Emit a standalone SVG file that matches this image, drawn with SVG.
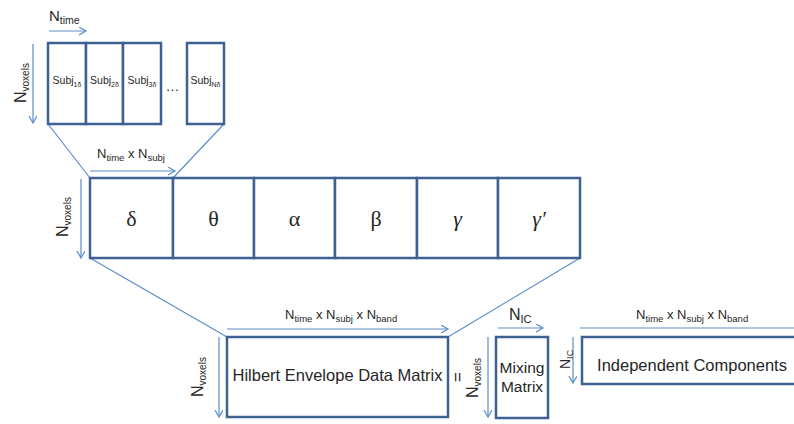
<svg xmlns="http://www.w3.org/2000/svg" width="794" height="424" viewBox="0 0 794 424">
  <defs>
    <marker id="head" markerUnits="userSpaceOnUse" markerWidth="10" markerHeight="10" refX="7" refY="4" orient="auto">
      <path d="M0,0 L7,4 L0,8" fill="none" stroke="#5B8DC9" stroke-width="1.2"/>
    </marker>
    <style>
      .box { fill: #ffffff; stroke: #3D6193; stroke-width: 2.5; }
      .ln { fill: none; stroke: #5B8DC9; stroke-width: 1.2; }
      .arr { fill: none; stroke: #5B8DC9; stroke-width: 1.2; marker-end: url(#head); }
      text { font-family: "Liberation Sans", Arial, sans-serif; fill: #262626; }
      .greek { font-family: "Liberation Serif", "Times New Roman", serif; font-size: 22px; text-anchor: middle; }
      .subj { font-size: 10.5px; text-anchor: middle; }
      .big { font-size: 16.5px; text-anchor: middle; }
      .mid { font-size: 15.5px; text-anchor: middle; }
    </style>
  </defs>

  <!-- connectors: axis arrows and expansion lines -->
  <g id="connectors">
    <line class="arr" x1="49" y1="31" x2="86" y2="31"/>
    <line class="arr" x1="33" y1="44" x2="33" y2="123"/>
    <line class="ln" x1="48" y1="124" x2="90" y2="178"/>
    <line class="ln" x1="224" y1="124" x2="173" y2="178"/>

    <line class="arr" x1="90" y1="171" x2="175" y2="171"/>
    <line class="arr" x1="81" y1="179" x2="81" y2="258"/>
    <line class="ln" x1="90" y1="258" x2="227" y2="337"/>
    <line class="ln" x1="580" y1="258" x2="448" y2="337"/>

    <line class="arr" x1="227" y1="329" x2="448" y2="329"/>
    <line class="arr" x1="219" y1="337" x2="219" y2="417"/>
    <line class="arr" x1="488" y1="337" x2="488" y2="417"/>
    <line class="arr" x1="498" y1="328" x2="543" y2="328"/>
    <line class="arr" x1="573" y1="337" x2="573" y2="383"/>
    <line class="arr" x1="580" y1="328" x2="802" y2="328"/>
  </g>

  <!-- axis labels -->
  <g id="labels">
    <text x="49" y="21" font-size="15">N<tspan font-size="10.5" dy="3">time</tspan></text>
    <text transform="translate(26,103) rotate(-90)" font-size="16">N<tspan font-size="10" dy="3">voxels</tspan></text>

    <text x="97" y="158" font-size="13">N<tspan font-size="9.5" dy="2.5">time</tspan><tspan dy="-2.5"> x N</tspan><tspan font-size="9.5" dy="2.5">subj</tspan></text>
    <text transform="translate(68,237) rotate(-90)" font-size="16">N<tspan font-size="10" dy="3">voxels</tspan></text>

    <text x="285" y="319" font-size="13">N<tspan font-size="9.5" dy="2.5">time</tspan><tspan dy="-2.5"> x N</tspan><tspan font-size="9.5" dy="2.5">subj</tspan><tspan dy="-2.5"> x N</tspan><tspan font-size="9.5" dy="2.5">band</tspan></text>
    <text transform="translate(203,397) rotate(-90)" font-size="16">N<tspan font-size="10" dy="3">voxels</tspan></text>

    <text transform="translate(463,377) rotate(-90)" font-size="17" text-anchor="middle">=</text>
    <text transform="translate(478,398) rotate(-90)" font-size="16">N<tspan font-size="10" dy="3">voxels</tspan></text>

    <text x="509" y="320" font-size="16">N<tspan font-size="11" dy="3">IC</tspan></text>
    <text transform="translate(570,369) rotate(-90)" font-size="14">N<tspan font-size="9" dy="3">IC</tspan></text>

    <text x="636" y="319" font-size="13">N<tspan font-size="9.5" dy="2.5">time</tspan><tspan dy="-2.5"> x N</tspan><tspan font-size="9.5" dy="2.5">subj</tspan><tspan dy="-2.5"> x N</tspan><tspan font-size="9.5" dy="2.5">band</tspan></text>
  </g>

  <!-- per-subject data blocks -->
  <g id="subj1">
    <rect class="box" x="48" y="43" width="38" height="81"/>
    <text class="subj" x="67" y="84">Subj<tspan font-size="7" dy="2.5">1δ</tspan></text>
  </g>
  <g id="subj2">
    <rect class="box" x="86" y="43" width="37" height="81"/>
    <text class="subj" x="104.5" y="84">Subj<tspan font-size="7" dy="2.5">2δ</tspan></text>
  </g>
  <g id="subj3">
    <rect class="box" x="123" y="43" width="38" height="81"/>
    <text class="subj" x="142" y="84">Subj<tspan font-size="7" dy="2.5">3δ</tspan></text>
  </g>
  <g id="ellipsis">
    <text x="172.5" y="91" font-size="14" text-anchor="middle">…</text>
  </g>
  <g id="subjN">
    <rect class="box" x="187" y="43" width="37" height="81"/>
    <text class="subj" x="205.5" y="84">Subj<tspan font-size="7" dy="2.5">Nδ</tspan></text>
  </g>

  <!-- frequency band blocks -->
  <g id="band-delta">
    <rect class="box" x="90" y="178" width="83" height="80"/>
    <text class="greek" x="131.5" y="226">δ</text>
  </g>
  <g id="band-theta">
    <rect class="box" x="173" y="178" width="81" height="80"/>
    <text class="greek" x="213.5" y="226">θ</text>
  </g>
  <g id="band-alpha">
    <rect class="box" x="254" y="178" width="81" height="80"/>
    <text class="greek" x="294.5" y="226">α</text>
  </g>
  <g id="band-beta">
    <rect class="box" x="335" y="178" width="82" height="80"/>
    <text class="greek" x="376" y="226">β</text>
  </g>
  <g id="band-gamma">
    <rect class="box" x="417" y="178" width="81" height="80"/>
    <text class="greek" x="457.5" y="226" font-style="italic">γ</text>
  </g>
  <g id="band-gamma-prime">
    <rect class="box" x="498" y="178" width="82" height="80"/>
    <text class="greek" x="539" y="226" font-style="italic">γ′</text>
  </g>

  <!-- decomposition -->
  <g id="data-matrix">
    <rect class="box" x="227" y="337" width="221" height="80"/>
    <text class="big" x="337.5" y="381">Hilbert Envelope Data Matrix</text>
  </g>
  <g id="mixing-matrix">
    <rect class="box" x="496" y="337" width="52" height="81"/>
    <text class="mid" x="522" y="373">Mixing</text>
    <text class="mid" x="522" y="392">Matrix</text>
  </g>
  <g id="components">
    <rect class="box" x="582" y="337" width="240" height="47"/>
    <text class="big" x="692" y="371">Independent Components</text>
  </g>
</svg>
